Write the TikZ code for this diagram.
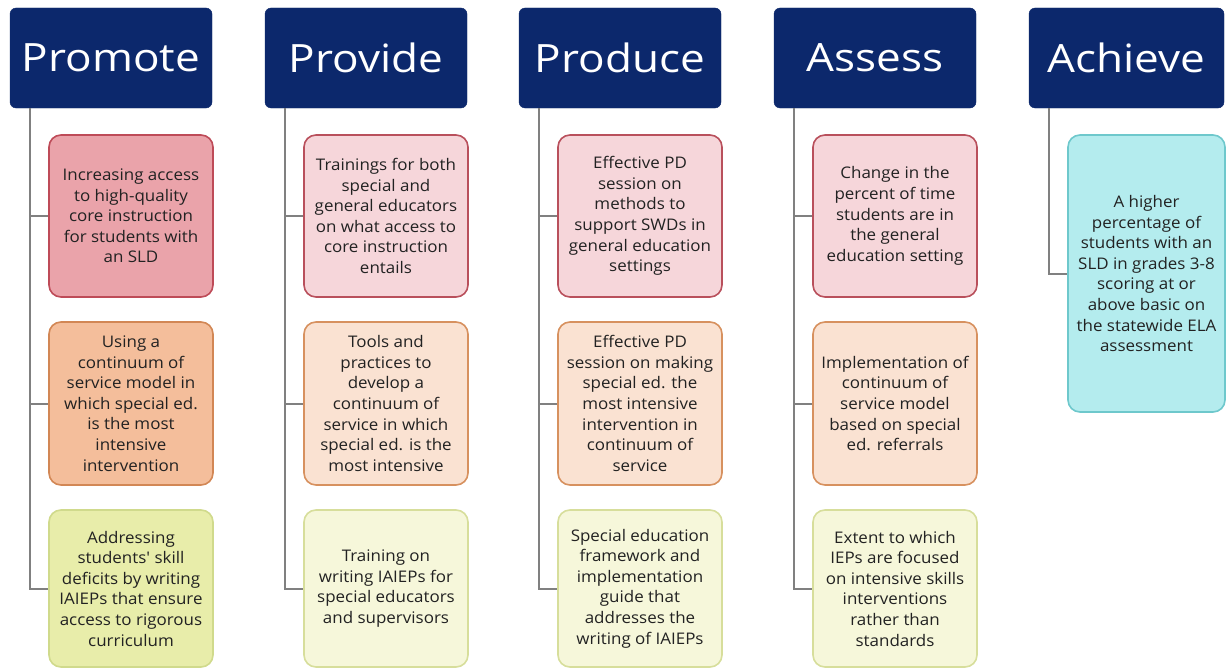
\documentclass[tikz,border=0pt]{standalone}
\usepackage{fontspec}
\setmainfont{Open Sans}[FakeStretch=1.13]
\newfontfamily\boxfont{Open Sans}[FakeStretch=1.06]
\definecolor{navy}{RGB}{12,40,108}
\definecolor{txt}{RGB}{34,34,34}
\definecolor{linegray}{RGB}{128,128,128}
\definecolor{redA}{RGB}{234,163,170}
\definecolor{redAb}{RGB}{190,75,88}
\definecolor{redB}{RGB}{246,214,218}
\definecolor{redBb}{RGB}{185,80,92}
\definecolor{orA}{RGB}{244,190,155}
\definecolor{orAb}{RGB}{210,135,85}
\definecolor{orB}{RGB}{250,226,210}
\definecolor{orBb}{RGB}{215,145,95}
\definecolor{grA}{RGB}{232,237,170}
\definecolor{grAb}{RGB}{208,218,140}
\definecolor{grB}{RGB}{246,247,218}
\definecolor{grBb}{RGB}{215,222,155}
\definecolor{cyA}{RGB}{180,236,238}
\definecolor{cyAb}{RGB}{110,200,204}
\begin{document}
\begin{tikzpicture}[x=1pt,y=-1pt,
  hdr/.style={draw=navy, fill=navy, rounded corners=6pt, minimum width=202pt,
    minimum height=100pt, inner sep=0pt, text=white,
    font=\fontsize{39}{44}\selectfont},
  box/.style={rounded corners=12pt, line width=1.6pt, minimum width=164pt,
    inner sep=0pt, align=center, text=txt,
    font=\boxfont\fontsize{16}{20.6}\selectfont},
  rowA/.style={box, minimum height=162pt},
  rowB/.style={box, minimum height=163pt},
  rowC/.style={box, minimum height=157pt},
  redbox/.style={fill=redA, draw=redAb},
  pinkbox/.style={fill=redB, draw=redBb},
  orbox/.style={fill=orA, draw=orAb},
  lorbox/.style={fill=orB, draw=orBb},
  grbox/.style={fill=grA, draw=grAb},
  lgrbox/.style={fill=grB, draw=grBb},
  cybox/.style={fill=cyA, draw=cyAb},
  tree/.style={draw=linegray, line width=2pt}
]
\fill[white] (0,0) rectangle (1226,669);
\useasboundingbox (0,0) rectangle (1226,669);

% Promote
\node[hdr] (h1) at (111,58) {Promote};
\node[rowA, redbox] (b11) at (131,216) {Increasing access\\to high-quality\\core instruction\\for students with\\an SLD};
\node[rowB, orbox] (b12) at (131,403.5) {Using a\\continuum of\\service model in\\which special ed.\\is the most\\intensive\\intervention};
\node[rowC, grbox] (b13) at (131,588.5) {Addressing\\students' skill\\deficits by writing\\IAIEPs that ensure\\access to rigorous\\curriculum};

% Provide
\node[hdr] (h2) at (366,58) {Provide};
\node[rowA, pinkbox] (b21) at (386,216) {Trainings for both\\special and\\general educators\\on what access to\\core instruction\\entails};
\node[rowB, lorbox] (b22) at (386,403.5) {Tools and\\practices to\\develop a\\continuum of\\service in which\\special ed. is the\\most intensive};
\node[rowC, lgrbox] (b23) at (386,588.5) {Training on\\writing IAIEPs for\\special educators\\and supervisors};

% Produce
\node[hdr] (h3) at (620,58) {Produce};
\node[rowA, pinkbox] (b31) at (640,216) {Effective PD\\session on\\methods to\\support SWDs in\\general education\\settings};
\node[rowB, lorbox] (b32) at (640,403.5) {Effective PD\\session on making\\special ed. the\\most intensive\\intervention in\\continuum of\\service};
\node[rowC, lgrbox] (b33) at (640,588.5) {Special education\\framework and\\implementation\\guide that\\addresses the\\writing of IAIEPs};

% Assess
\node[hdr] (h4) at (875,58) {Assess};
\node[rowA, pinkbox] (b41) at (895,216) {Change in the\\percent of time\\students are in\\the general\\education setting};
\node[rowB, lorbox] (b42) at (895,403.5) {Implementation of\\continuum of\\service model\\based on special\\ed. referrals};
\node[rowC, lgrbox] (b43) at (895,588.5) {Extent to which\\IEPs are focused\\on intensive skills\\interventions\\rather than\\standards};

% Achieve
\node[hdr, minimum width=195pt] (h5) at (1126.5,58) {Achieve};
\node[box, cybox, minimum width=157pt, minimum height=277pt] (b51) at (1146.5,273.5) {A higher\\percentage of\\students with an\\SLD in grades 3-8\\scoring at or\\above basic on\\the statewide ELA\\assessment};

% connectors
\foreach \c in {1,2,3,4}{
  \draw[tree] ([xshift=20pt]h\c.south west) coordinate (t\c) |- (b\c3.west);
  \draw[tree] (b\c1.west) -- (b\c1.west -| t\c);
  \draw[tree] (b\c2.west) -- (b\c2.west -| t\c);
}
\draw[tree] ([xshift=20pt]h5.south west) |- (b51.west);
\end{tikzpicture}
\end{document}
